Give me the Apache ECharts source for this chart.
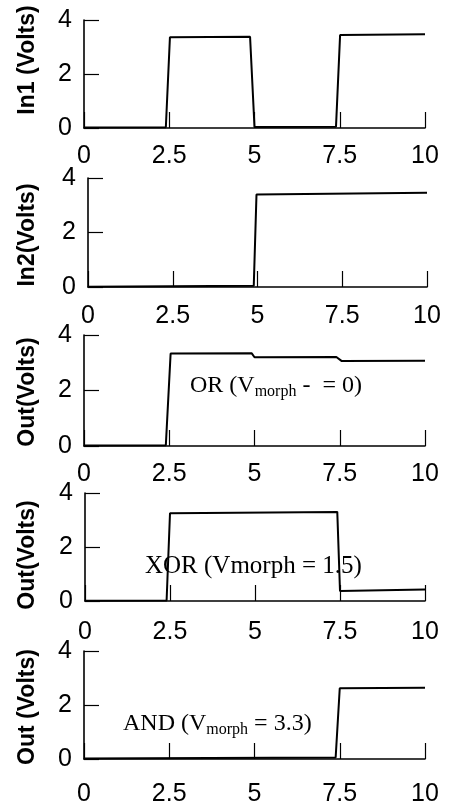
<!DOCTYPE html>
<html>
<head>
<meta charset="utf-8">
<script src="https://cdn.jsdelivr.net/npm/echarts@6/dist/echarts.min.js"></script>
<style>
html,body{margin:0;padding:0;background:#fff;}
#main{width:451px;height:808px;}
</style>
</head>
<body>
<div id="main"></div>
<script>
// ---- data (time in arbitrary units, voltage in volts) ----
const xTicks = [0, 2.5, 5, 7.5, 10];
const yTicks = [0, 2, 4];
const yTitles = ['In1 (Volts)', 'In2(Volts)', 'Out(Volts)', 'Out(Volts)', 'Out (Volts)'];

const in1 = [[0,0.02],[2.40,0.03],[2.52,3.36],[4.87,3.38],[5.00,0.04],[7.39,0.05],[7.51,3.44],[10,3.47]];
const in2 = [[0,0.01],[4.89,0.05],[4.97,3.39],[10,3.46]];
const outOr = [[0,0.02],[2.40,0.03],[2.54,3.33],[4.92,3.34],[5.00,3.20],[7.40,3.21],[7.56,3.06],[10,3.07]];
const outXor = [[0,0.01],[2.40,0.02],[2.50,3.25],[7.42,3.30],[7.50,0.37],[10,0.43]];
const outAnd = [[0,0.02],[7.38,0.06],[7.50,2.62],[10,2.64]];

const seriesData = [in1, in2, outOr, outXor, outAnd];

// annotation texts (rich)
const annOr = ['OR (V', 'morph', ' -  = 0)'];
const annXor = ['XOR (Vmorph = 1.5)'];
const annAnd = ['AND (V', 'morph', ' = 3.3)'];

// ---- layout ----
const grids = [
  {left:84, top:20,  width:341, height:108},
  {left:88, top:178, width:339, height:109},
  {left:84, top:335, width:341, height:111},
  {left:85, top:493, width:340, height:108},
  {left:84, top:651, width:341, height:108}
];
const xLabelMargin = [16, 17, 16, 19, 23];
const titleY = [60, 235, 392, 555, 707];

const black = '#000';
const tickFont = {fontFamily:'Liberation Sans, Arial, sans-serif', fontSize:25, color:black};
const serif = 'Liberation Serif, Times New Roman, serif';
const richStyles = {
  a:{fontFamily:serif, fontSize:24, fill:black, lineHeight:26, verticalAlign:'top'},
  s:{fontFamily:serif, fontSize:16, fill:black, lineHeight:14, verticalAlign:'bottom'}
};

const option = {
  animation:false,
  backgroundColor:'#fff',
  grid: grids,
  xAxis: grids.map((g,i)=>({
    type:'value', gridIndex:i, min:xTicks[0], max:xTicks[xTicks.length-1], interval:xTicks[1]-xTicks[0],
    axisLine:{show:true, onZero:false, lineStyle:{color:black, width:1.6}},
    axisTick:{show:true, inside:true, length:16, lineStyle:{color:black, width:1.2}},
    axisLabel:{show:true, margin:xLabelMargin[i], ...tickFont, formatter:v=>String(v)},
    splitLine:{show:false}
  })),
  yAxis: grids.map((g,i)=>({
    type:'value', gridIndex:i, min:yTicks[0], max:yTicks[yTicks.length-1], interval:yTicks[1]-yTicks[0],
    axisLine:{show:true, onZero:false, lineStyle:{color:black, width:1.6}},
    axisTick:{show:true, inside:true, length:15, lineStyle:{color:black, width:1.2}},
    axisLabel:{show:true, margin:12, ...tickFont},
    splitLine:{show:false}
  })),
  series: seriesData.map((d,i)=>({
    type:'line', xAxisIndex:i, yAxisIndex:i, data:d, showSymbol:false, symbol:'none',
    lineStyle:{color:black, width:2}, z:3
  })),
  graphic: [
    ...yTitles.map((t,i)=>({
      type:'text', x:28, y:titleY[i], rotation:Math.PI/2, z:10,
      style:{text:t, fill:black, font:'bold 23px Liberation Sans, Arial, sans-serif', textAlign:'center', textVerticalAlign:'middle'}
    })),
    {
      type:'text', left:190, top:374, z:1,
      style:{text:'{a|'+annOr[0]+'}{s|'+annOr[1]+'}{a|'+annOr[2]+'}', rich:richStyles, lineHeight:32}
    },
    {
      type:'text', left:145, top:554, z:1,
      style:{text:annXor[0], fill:black, font:'25px Liberation Serif, Times New Roman, serif'}
    },
    {
      type:'text', left:123, top:712, z:1,
      style:{text:'{a|'+annAnd[0]+'}{s|'+annAnd[1]+'}{a|'+annAnd[2]+'}', rich:richStyles, lineHeight:32}
    }
  ]
};

const chart = echarts.init(document.getElementById('main'), null, {renderer:'canvas'});
chart.setOption(option);
</script>
</body>
</html>
